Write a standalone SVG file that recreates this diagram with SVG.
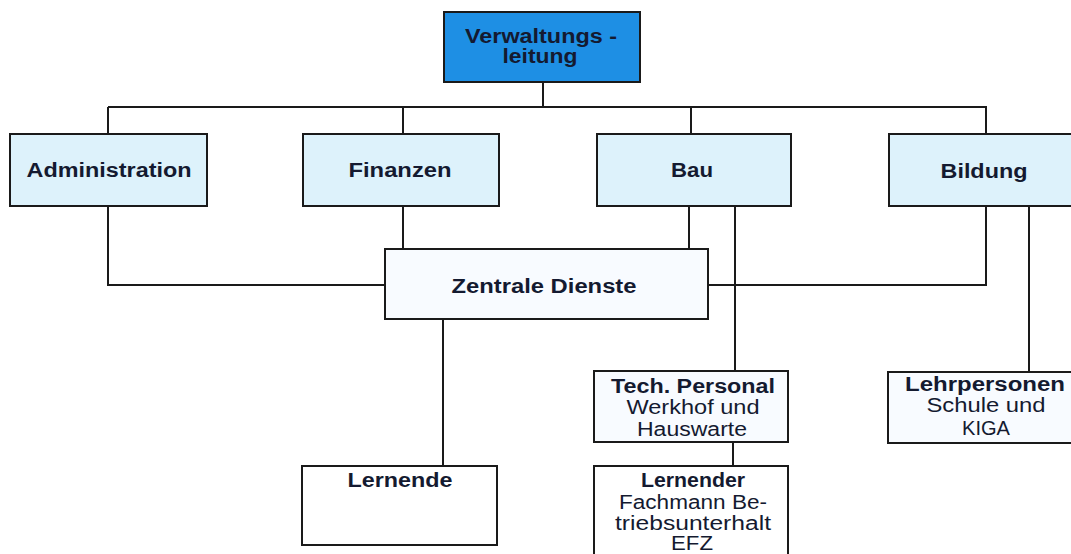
<svg xmlns="http://www.w3.org/2000/svg" width="1071" height="554" viewBox="0 0 1071 554">
<style>
.box{stroke:#1a1a1a;stroke-width:2}
.lb{fill:#ddf2fb}
.wb{fill:#f8fbff}
.top{fill:#1e8fe4}
.t{font-family:"Liberation Sans",Arial,sans-serif;font-size:20px;fill:#141a30;text-anchor:middle}
.b{font-weight:bold}
.c{fill:none;stroke:#1a1a1a;stroke-width:2}
</style>
<rect width="1071" height="554" fill="#ffffff"/>
<g id="connectors">
<path class="c" d="M543 82V107M108 107H987M108 107V134M403 107V134M691 107V134M986 107V134"/>
<path class="c" d="M108 206V285H385M403 206V249M689 206V249M986 206V285H708"/>
<path class="c" d="M735 206V371M733 442V466M1029 206V372M443 319V466"/>
</g>
<g id="verwaltungsleitung">
<rect class="box top" x="444" y="12" width="196" height="70"/>
<text class="t b" x="541" y="43" textLength="152" lengthAdjust="spacingAndGlyphs">Verwaltungs -</text>
<text class="t b" x="540" y="63" textLength="75" lengthAdjust="spacingAndGlyphs">leitung</text>
</g>
<g id="administration">
<rect class="box lb" x="10" y="134" width="197" height="72"/>
<text class="t b" x="109" y="177" textLength="165" lengthAdjust="spacingAndGlyphs">Administration</text>
</g>
<g id="finanzen">
<rect class="box lb" x="303" y="134" width="196" height="72"/>
<text class="t b" x="400" y="177" textLength="103" lengthAdjust="spacingAndGlyphs">Finanzen</text>
</g>
<g id="bau">
<rect class="box lb" x="597" y="134" width="194" height="72"/>
<text class="t b" x="692" y="177" textLength="42" lengthAdjust="spacingAndGlyphs">Bau</text>
</g>
<g id="bildung">
<rect class="box lb" x="889" y="134" width="190" height="72"/>
<text class="t b" x="984" y="178" textLength="87" lengthAdjust="spacingAndGlyphs">Bildung</text>
</g>
<g id="zentrale-dienste">
<rect class="box wb" x="385" y="249" width="323" height="70"/>
<text class="t b" x="544" y="293" textLength="185" lengthAdjust="spacingAndGlyphs">Zentrale Dienste</text>
</g>
<g id="tech-personal">
<rect class="box wb" x="594" y="371" width="194" height="71"/>
<text class="t b" x="693" y="393" textLength="164" lengthAdjust="spacingAndGlyphs">Tech. Personal</text>
<text class="t" x="693" y="414" textLength="133" lengthAdjust="spacingAndGlyphs">Werkhof und</text>
<text class="t" x="692" y="436" textLength="110" lengthAdjust="spacingAndGlyphs">Hauswarte</text>
</g>
<g id="lehrpersonen">
<rect class="box wb" x="888" y="372" width="190" height="71"/>
<text class="t b" x="985" y="391" textLength="160" lengthAdjust="spacingAndGlyphs">Lehrpersonen</text>
<text class="t" x="986" y="412" textLength="119" lengthAdjust="spacingAndGlyphs">Schule und</text>
<text class="t" x="986" y="435" textLength="48" lengthAdjust="spacingAndGlyphs">KIGA</text>
</g>
<g id="lernende">
<rect class="box" fill="#ffffff" x="302" y="466" width="195" height="79"/>
<text class="t b" x="400" y="487" textLength="105" lengthAdjust="spacingAndGlyphs">Lernende</text>
</g>
<g id="lernender">
<rect class="box" fill="#ffffff" x="594" y="466" width="194" height="100"/>
<text class="t b" x="693" y="487" textLength="104" lengthAdjust="spacingAndGlyphs">Lernender</text>
<text class="t" x="693" y="509" textLength="148" lengthAdjust="spacingAndGlyphs">Fachmann Be-</text>
<text class="t" x="693" y="530" textLength="156" lengthAdjust="spacingAndGlyphs">triebsunterhalt</text>
<text class="t" x="692" y="550" textLength="42" lengthAdjust="spacingAndGlyphs">EFZ</text>
</g>
</svg>
